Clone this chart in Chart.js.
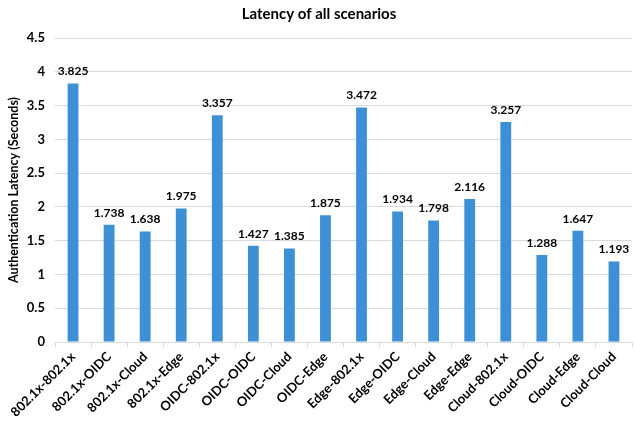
<!DOCTYPE html>
<html>
<head>
<meta charset="utf-8">
<script src="https://cdn.jsdelivr.net/npm/chart.js@4/dist/chart.umd.min.js"></script>
<style>
  html, body { margin: 0; padding: 0; background: #ffffff; }
  #wrap { width: 635px; height: 422px; }
</style>
</head>
<body>
<div id="wrap"><canvas id="chart"></canvas></div>
<script>
// Scenario names (client-server pairings)
const categories = [
  '802.1x-802.1x', '802.1x-OIDC', '802.1x-Cloud', '802.1x-Edge',
  'OIDC-802.1x', 'OIDC-OIDC', 'OIDC-Cloud', 'OIDC-Edge',
  'Edge-802.1x', 'Edge-OIDC', 'Edge-Cloud', 'Edge-Edge',
  'Cloud-802.1x', 'Cloud-OIDC', 'Cloud-Edge', 'Cloud-Cloud'
];
// Authentication latency in seconds
const latency = [
  3.825, 1.738, 1.638, 1.975,
  3.357, 1.427, 1.385, 1.875,
  3.472, 1.934, 1.798, 2.116,
  3.257, 1.288, 1.647, 1.193
];
// Y axis range and step
const yMin = 0;
const yMax = 4.5;
const yStep = 0.5;

const FONT = 'Lato, "Open Sans", sans-serif';

// Writes each bar's value just above it
const valueLabels = {
  id: 'valueLabels',
  afterDatasetsDraw(chart) {
    const ctx = chart.ctx;
    const meta = chart.getDatasetMeta(0);
    ctx.save();
    ctx.font = 'bold 12px ' + FONT;
    ctx.fillStyle = '#000000';
    ctx.textAlign = 'center';
    ctx.textBaseline = 'bottom';
    meta.data.forEach((bar, i) => {
      ctx.fillText(latency[i].toFixed(3), bar.x, bar.y - 6);
    });
    ctx.restore();
  }
};

new Chart(document.getElementById('chart'), {
  type: 'bar',
  data: {
    labels: categories,
    datasets: [{
      data: latency,
      backgroundColor: '#3d8fd6',
      borderWidth: 0,
      barPercentage: 0.6,
      categoryPercentage: 0.5
    }]
  },
  options: {
    responsive: true,
    maintainAspectRatio: false,
    animation: false,
    layout: { padding: { top: 4, right: 3, bottom: 0, left: 6 } },
    plugins: {
      legend: { display: false },
      tooltip: { enabled: false },
      title: {
        display: true,
        text: 'Latency of all scenarios',
        color: '#000000',
        font: { family: FONT, size: 15, weight: 'bold' },
        padding: { top: 1, bottom: 15 }
      }
    },
    scales: {
      x: {
        offset: true,
        grid: {
          display: true,
          offset: true,
          drawOnChartArea: false,
          drawTicks: true,
          tickLength: 5,
          color: '#d9d9d9'
        },
        border: { display: true, color: '#d9d9d9' },
        ticks: {
          autoSkip: false,
          maxRotation: 45,
          minRotation: 45,
          color: '#000000',
          padding: 2,
          font: { family: FONT, size: 13, weight: 'bold' }
        }
      },
      y: {
        min: yMin,
        max: yMax,
        afterFit(scale) { scale.width = 49; },
        ticks: {
          stepSize: yStep,
          color: '#000000',
          padding: 10,
          font: { family: FONT, size: 13, weight: 'bold' },
          callback: v => String(v)
        },
        grid: { color: '#d9d9d9', drawTicks: false },
        border: { display: false },
        title: {
          display: true,
          text: 'Authentication Latency (Seconds)',
          color: '#000000',
          font: { family: FONT, size: 12.5, weight: 'bold' },
          padding: { top: 0, bottom: 0 }
        }
      }
    }
  },
  plugins: [valueLabels]
});
</script>
</body>
</html>
